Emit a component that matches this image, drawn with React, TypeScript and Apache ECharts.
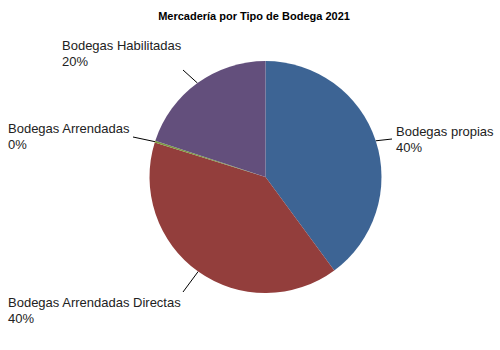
import React, { useEffect, useRef } from "react";
import * as echarts from "echarts";

const categories = [
  "Bodegas propias",
  "Bodegas Arrendadas Directas",
  "Bodegas Arrendadas",
  "Bodegas Habilitadas",
];
const values = [40, 40, 0.25, 20];
const percentLabels = ["40%", "40%", "0%", "20%"];
const colors = ["#3d6494", "#933e3c", "#7b9a3f", "#634f7c"];

// label placement (top-left of text block) and label-line end per slice
const labelPos: [number, number][] = [
  [396, 123],
  [8, 294],
  [8, 120],
  [62, 37],
];
const lineEnd: [number, number][] = [
  [392, 139],
  [183, 292],
  [133, 137],
  [183, 70],
];

export default function App() {
  const ref = useRef<HTMLDivElement>(null);
  useEffect(() => {
    if (!ref.current) return;
    const chart = echarts.init(ref.current, undefined, { renderer: "svg" });
    chart.setOption({
      animation: false,
      backgroundColor: "#ffffff",
      title: {
        text: "Mercadería por Tipo de Bodega 2021",
        left: 249,
        textAlign: "center",
        top: 5,
        textStyle: {
          fontFamily: "Liberation Sans, Arial, sans-serif",
          fontSize: 11,
          fontWeight: "bold",
          color: "#000",
        },
      },
      series: [
        {
          type: "pie",
          center: [265.5, 177],
          radius: 116,
          startAngle: 90,
          clockwise: true,
          avoidLabelOverlap: false,
          minAngle: 0,
          data: categories.map((c, i) => ({
            name: c,
            value: values[i],
            itemStyle: { color: colors[i] },
          })),
          itemStyle: {
            borderWidth: 0,
          },
          label: {
            show: true,
            position: "outside",
            formatter: (p: any) => `${p.name}\n${percentLabels[p.dataIndex]}`,
            fontFamily: "Liberation Sans, Arial, sans-serif",
            fontSize: 13,
            lineHeight: 16,
            color: "#222",
            align: "left",
          },
          labelLine: {
            show: true,
            length: 10,
            length2: 10,
            lineStyle: { color: "#000", width: 1 },
          },
          labelLayout: (params: any) => {
            const i = params.dataIndex;
            const start = params.labelLinePoints
              ? params.labelLinePoints[0]
              : lineEnd[i];
            return {
              x: labelPos[i][0],
              y: labelPos[i][1],
              align: "left",
              verticalAlign: "top",
              labelLinePoints: [start, lineEnd[i], lineEnd[i]],
            };
          },
          emphasis: { disabled: true },
        },
      ],
    });
    return () => chart.dispose();
  }, []);
  return (
    <div
      ref={ref}
      style={{ position: "absolute", left: 0, top: 0, width: 500, height: 350 }}
    />
  );
}
